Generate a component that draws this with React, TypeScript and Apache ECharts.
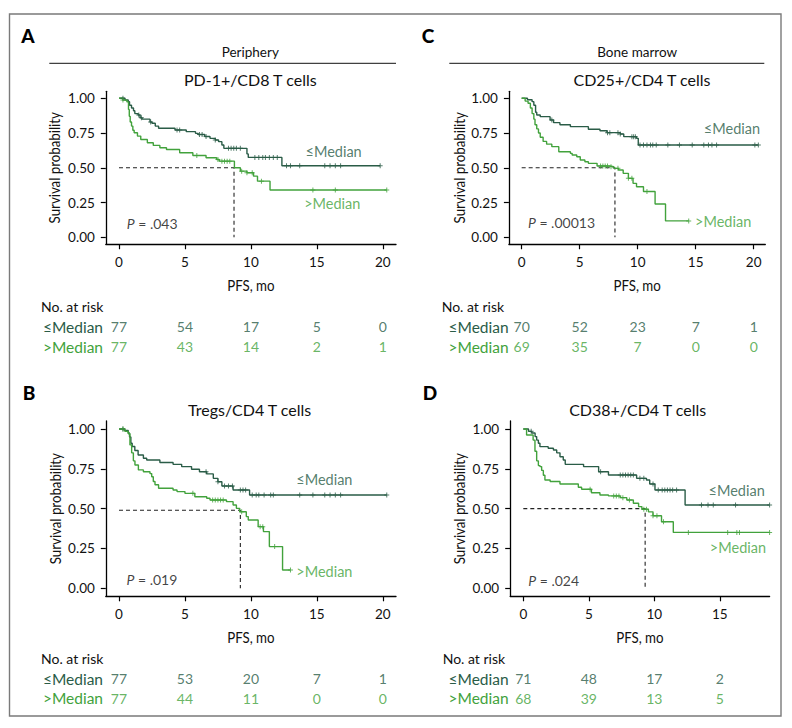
import React, { useEffect, useRef } from "react";
import * as echarts from "echarts";

const DARK = "#2a5c47";
const LIGHT = "#42a23c";
const FONT = "Lato, 'Open Sans', sans-serif";

const groups = ["≤Median", ">Median"];
const yTicks = [0, 0.25, 0.5, 0.75, 1];
const xTicks20 = [0, 5, 10, 15, 20];
const xTicks15 = [0, 5, 10, 15];

// ---------- Panel A: Periphery, PD-1+/CD8 T cells ----------
const aLow = [[0,1],[0.45,0.988],[0.7,0.976],[0.8,0.95],[0.95,0.93],[1.1,0.91],[1.2,0.89],[1.45,0.88],[1.6,0.86],[1.75,0.85],[2.35,0.83],[2.5,0.82],[2.75,0.8],[3.0,0.785],[4.25,0.772],[5.1,0.76],[5.8,0.748],[6.0,0.74],[6.5,0.725],[6.9,0.712],[7.3,0.7],[7.55,0.688],[7.8,0.664],[7.95,0.64],[9.7,0.6],[9.8,0.575],[12.35,0.515],[19.8,0.515]];
const aHigh = [[0,1],[0.3,0.987],[0.6,0.974],[0.72,0.92],[0.78,0.87],[0.85,0.83],[0.95,0.8],[1.05,0.77],[1.15,0.752],[1.4,0.728],[1.65,0.704],[2.15,0.68],[2.6,0.661],[3.1,0.644],[3.6,0.632],[4.6,0.608],[5.6,0.589],[6.6,0.572],[7.4,0.56],[7.6,0.548],[8.75,0.5],[9.2,0.476],[9.7,0.464],[10.2,0.44],[10.5,0.404],[11.45,0.34],[20.3,0.34]];
const aLowCensor = [0.3,1.5,1.7,2.4,4.4,4.6,6.1,6.3,6.6,7.3,8.3,8.5,8.7,8.9,9.2,10.3,10.6,10.9,11.1,11.4,11.7,12.0,12.7,13.0,13.7,15.6,16.0,16.4,16.8,19.8];
const aHighCensor = [0.3,5.9,7.5,7.8,8.0,8.2,8.4,9.3,9.7,10.1,10.8,14.7,16.4,20.3];
const aRiskLow = [77, 54, 17, 5, 0];
const aRiskHigh = [77, 43, 14, 2, 1];
const aMedian = [8.72, 0.5];
const aP = ".043";

// ---------- Panel B: Tregs/CD4 T cells ----------
const bLow = [[0,1],[0.4,0.99],[0.7,0.975],[0.8,0.95],[0.9,0.91],[1.0,0.89],[1.2,0.865],[1.45,0.837],[1.85,0.816],[2.1,0.805],[3.1,0.79],[4.1,0.778],[4.75,0.764],[5.5,0.747],[6.1,0.732],[6.65,0.718],[7.15,0.69],[7.5,0.669],[7.8,0.642],[8.65,0.617],[9.9,0.586],[20.3,0.586]];
const bHigh = [[0,1],[0.45,0.985],[0.7,0.97],[0.83,0.9],[0.96,0.85],[1.09,0.8],[1.21,0.774],[1.47,0.743],[1.85,0.732],[2.35,0.72],[2.48,0.7],[2.6,0.67],[2.73,0.65],[3.0,0.628],[4.1,0.617],[4.4,0.607],[5.0,0.596],[5.75,0.575],[6.65,0.565],[6.9,0.554],[8.15,0.544],[8.65,0.523],[8.9,0.502],[9.15,0.481],[9.65,0.45],[9.8,0.429],[10.55,0.387],[10.95,0.356],[11.4,0.262],[12.4,0.115],[13.0,0.115]];
const bLowCensor = [0.3,6.6,7.5,8.0,8.3,8.6,9.2,9.4,9.6,10.1,10.4,10.6,11.0,11.5,11.7,13.7,14.7,15.6,16.0,16.4,16.8,20.3];
const bHighCensor = [0.3,5.6,7.1,7.3,7.5,7.7,7.9,9.3,10.7,10.9,11.8,13.0];
const bRiskLow = [77, 53, 20, 7, 1];
const bRiskHigh = [77, 44, 11, 0, 0];
const bMedian = [9.2, 0.49];
const bP = ".019";

// ---------- Panel C: Bone marrow, CD25+/CD4 T cells ----------
const cLow = [[0,1],[0.5,0.99],[0.9,0.976],[1.05,0.95],[1.2,0.9],[1.3,0.88],[1.6,0.868],[2.45,0.844],[2.75,0.825],[3.3,0.81],[4.2,0.796],[5.75,0.777],[6.75,0.767],[7.35,0.753],[8.5,0.743],[8.8,0.724],[9.9,0.712],[10.05,0.664],[20.4,0.664]];
const cHigh = [[0,1],[0.3,0.98],[0.55,0.964],[0.75,0.93],[0.9,0.89],[1.05,0.85],[1.15,0.81],[1.3,0.78],[1.45,0.75],[1.6,0.72],[1.85,0.69],[2.15,0.67],[2.6,0.652],[3.2,0.616],[4.2,0.604],[4.35,0.592],[4.75,0.58],[5.05,0.556],[5.45,0.544],[5.75,0.532],[6.5,0.513],[7.6,0.508],[7.95,0.496],[8.35,0.484],[8.75,0.46],[9.2,0.424],[9.6,0.388],[9.9,0.364],[10.5,0.329],[11.5,0.24],[12.4,0.118],[14.4,0.118]];
const cLowCensor = [2.6,7.4,7.6,8.3,8.5,9.5,9.65,9.8,10.2,10.5,10.8,11.1,11.3,11.6,12.6,13.6,14.7,15.7,16.1,16.4,16.8,20.1,20.4];
const cHighCensor = [6.8,7.0,7.2,7.4,7.7,8.3,9.2,9.5,10.8,14.4];
const cRiskLow = [70, 52, 23, 7, 1];
const cRiskHigh = [69, 35, 7, 0, 0];
const cMedian = [8.04, 0.5];
const cP = ".00013";

// ---------- Panel D: CD38+/CD4 T cells ----------
const dLow = [[0,1],[0.4,0.985],[0.65,0.975],[0.9,0.952],[1.02,0.93],[1.15,0.91],[1.27,0.889],[1.9,0.879],[2.3,0.868],[2.55,0.85],[2.8,0.826],[3.05,0.805],[3.2,0.778],[4.6,0.764],[5.75,0.732],[6.5,0.711],[8.65,0.69],[9.4,0.68],[9.65,0.655],[10.05,0.617],[12.35,0.523],[18.8,0.523]];
const dHigh = [[0,1],[0.25,0.962],[0.75,0.93],[0.89,0.86],[1.02,0.8],[1.15,0.77],[1.27,0.764],[1.4,0.74],[1.53,0.71],[1.65,0.68],[2.05,0.67],[2.8,0.655],[4.2,0.634],[4.45,0.622],[5.2,0.6],[5.85,0.586],[6.5,0.58],[7.4,0.569],[7.9,0.554],[8.4,0.534],[8.8,0.513],[9.05,0.496],[9.55,0.48],[9.9,0.455],[10.55,0.418],[11.45,0.351],[18.8,0.351]];
const dLowCensor = [0.6,5.9,7.4,7.6,7.8,8.0,8.2,8.4,8.9,9.2,9.9,10.3,10.6,10.8,11.0,11.2,11.4,11.7,13.6,14.1,14.5,16.2,18.8];
const dHighCensor = [5.1,6.9,7.1,7.3,7.6,8.1,9.2,9.4,9.9,10.2,10.7,12.6,15.6,16.3,16.5,18.8];
const dRiskLow = [71, 48, 17, 2];
const dRiskHigh = [68, 39, 13, 5];
const dMedian = [9.3, 0.5];
const dP = ".024";

// ---------- layout (pixels) ----------
const panels = [
  { letter: "A", lx: 28, ly: 35, title: "PD-1+/CD8 T cells", tx: 250.3, ty: 79,
    low: aLow, high: aHigh, lowC: aLowCensor, highC: aHighCensor, riskLow: aRiskLow, riskHigh: aRiskHigh,
    median: aMedian, p: aP, xticks: xTicks20,
    gx: 105.8, gw: 290.2, xmin: -1, xmax: 21, gy: 91.35, gh: 152.9,
    pPos: [0.55, 0.097], lowLab: [14.1, 0.62], highLab: [14.0, 0.243],
    riskTop: 316.7, riskH: 40, nrX: 41, nrY: 306.7, yNameX: 53, xNameY: 284.3, labRight: 103 },
  { letter: "B", lx: 29, ly: 392, title: "Tregs/CD4 T cells", tx: 249.7, ty: 409.3,
    low: bLow, high: bHigh, lowC: bLowCensor, highC: bHighCensor, riskLow: bRiskLow, riskHigh: bRiskHigh,
    median: bMedian, p: bP, xticks: xTicks20,
    gx: 105.8, gw: 290.2, xmin: -1, xmax: 21, gy: 421.0, gh: 175.3,
    pPos: [0.53, 0.056], lowLab: [13.4, 0.68], highLab: [13.4, 0.104],
    riskTop: 668.9, riskH: 39.2, nrX: 41, nrY: 658.7, yNameX: 54.3, xNameY: 636.7, labRight: 103 },
  { letter: "C", lx: 428, ly: 35, title: "CD25+/CD4 T cells", tx: 642, ty: 79,
    low: cLow, high: cHigh, lowC: cLowCensor, highC: cHighCensor, riskLow: cRiskLow, riskHigh: cRiskHigh,
    median: cMedian, p: cP, xticks: xTicks20,
    gx: 508.9, gw: 256.4, xmin: -1.1, xmax: 21, gy: 91.35, gh: 152.9,
    pPos: [0.5, 0.103], lowLab: [15.66, 0.78], highLab: [14.9, 0.114],
    riskTop: 316.7, riskH: 40, nrX: 441.7, nrY: 306.7, yNameX: 458.3, xNameY: 284.3, labRight: 508.6 },
  { letter: "D", lx: 430, ly: 392, title: "CD38+/CD4 T cells", tx: 637.7, ty: 409.3,
    low: dLow, high: dHigh, lowC: dLowCensor, highC: dHighCensor, riskLow: dRiskLow, riskHigh: dRiskHigh,
    median: dMedian, p: dP, xticks: xTicks15,
    gx: 510.2, gw: 259.4, xmin: -1, xmax: 18.8, gy: 421.0, gh: 175.3,
    pPos: [0.34, 0.052], lowLab: [14.1, 0.613], highLab: [14.2, 0.257],
    riskTop: 668.9, riskH: 39.2, nrX: 442.7, nrY: 658.7, yNameX: 458.3, xNameY: 636.7, labRight: 508.6 },
];

const PLUS = "path://M4,0H6V4H10V6H6V10H4V6H0V4H4Z";

function survAt(curve: number[][], t: number) {
  let s = 1;
  for (const [tt, v] of curve) if (tt <= t + 1e-9) s = v;
  return s;
}

function buildOption() {
  const grid: any[] = [];
  const xAxis: any[] = [];
  const yAxis: any[] = [];
  const series: any[] = [];
  const graphic: any[] = [];

  const axisLine = { show: true, onZero: false, lineStyle: { color: "#000", width: 1.3 } };
  const axisTickStyle = { color: "#000", width: 1.2 };

  panels.forEach((p) => {
    const gi = grid.length;
    grid.push({ left: p.gx, top: p.gy, width: p.gw, height: p.gh });
    xAxis.push({
      type: "value", gridIndex: gi, min: p.xmin, max: p.xmax,
      axisLine, splitLine: { show: false },
      axisTick: { show: true, length: 5, lineStyle: axisTickStyle, customValues: p.xticks },
      axisLabel: { customValues: p.xticks, margin: 11, fontSize: 13.5, fontFamily: FONT, color: "#111" },
    });
    yAxis.push({
      type: "value", gridIndex: gi, min: -0.05, max: 1.05,
      axisLine, splitLine: { show: false },
      axisTick: { show: true, length: 5, lineStyle: axisTickStyle, customValues: yTicks },
      axisLabel: { customValues: yTicks, margin: 11, fontSize: 13.5, fontFamily: FONT, color: "#111",
        formatter: (v: number) => v.toFixed(2) },
    });

    const curves = [
      { data: p.low, censor: p.lowC, color: DARK },
      { data: p.high, censor: p.highC, color: LIGHT },
    ];
    curves.forEach((c) => {
      series.push({
        type: "line", xAxisIndex: gi, yAxisIndex: gi, step: "end", data: c.data,
        showSymbol: false, silent: true, lineStyle: { color: c.color, width: 1.4 }, z: 3,
      });
      series.push({
        type: "scatter", xAxisIndex: gi, yAxisIndex: gi, symbol: PLUS, symbolSize: 5,
        data: c.censor.map((t) => [t, survAt(c.data, t)]), silent: true,
        itemStyle: { color: c.color }, z: 4,
      });
    });
    // median dashed
    series.push({
      type: "line", xAxisIndex: gi, yAxisIndex: gi, silent: true, showSymbol: false,
      data: [[0, p.median[1]], [p.median[0], p.median[1]], [p.median[0], 0]],
      lineStyle: { color: "#222", width: 1.1, type: [4, 3] }, z: 2,
    });
    // text labels in data coords
    const txt = (pos: number[], formatter: string, color: string, size: number, rich?: any) => ({
      type: "scatter", xAxisIndex: gi, yAxisIndex: gi, silent: true, symbolSize: 1,
      itemStyle: { color: "rgba(0,0,0,0)" }, data: [pos],
      label: { show: true, position: "right", distance: 0, formatter, color, fontSize: size,
        fontFamily: FONT, rich },
    });
    series.push(txt(p.pPos, "{i|P} = " + p.p, "#111", 14,
      { i: { fontStyle: "italic", fontSize: 14, fontFamily: FONT, color: "#111" } }));
    series.push(txt(p.lowLab, groups[0], DARK, 14.5));
    series.push(txt(p.highLab, groups[1], LIGHT, 14.5));

    // risk table grid
    const ri = grid.length;
    grid.push({ left: p.gx, top: p.riskTop, width: p.gw, height: p.riskH });
    xAxis.push({ type: "value", gridIndex: ri, min: p.xmin, max: p.xmax, show: false });
    yAxis.push({
      type: "category", gridIndex: ri, data: groups, inverse: true,
      axisLine: { show: false }, axisTick: { show: false }, splitLine: { show: false },
      axisLabel: { interval: 0, hideOverlap: false, margin: p.gx - p.labRight, fontSize: 15.5, fontFamily: FONT,
        color: (_v: any, idx: number) => (idx === 0 ? DARK : LIGHT) },
    });
    [{ vals: p.riskLow, g: groups[0], color: DARK }, { vals: p.riskHigh, g: groups[1], color: LIGHT }].forEach((r) => {
      series.push({
        type: "scatter", xAxisIndex: ri, yAxisIndex: ri, silent: true, symbolSize: 1,
        itemStyle: { color: "rgba(0,0,0,0)" },
        data: r.vals.map((v, k) => [p.xticks[k], r.g, v]),
        label: { show: true, position: "inside", formatter: (q: any) => String(q.value[2]),
          color: r.color, fontSize: 14, fontFamily: FONT },
      });
    });

    // graphic texts
    graphic.push({ type: "text", x: p.lx, y: p.ly, style: { text: p.letter, fontSize: 19, fontWeight: 900,
      fontFamily: FONT, fill: "#000", align: "center", verticalAlign: "middle" } });
    graphic.push({ type: "text", x: p.tx, y: p.ty, style: { text: p.title, fontSize: 16,
      fontFamily: FONT, fill: "#111", align: "center", verticalAlign: "middle" } });
    graphic.push({ type: "text", x: p.nrX, y: p.nrY, style: { text: "No. at risk", fontSize: 14,
      fontFamily: FONT, fill: "#111", align: "left", verticalAlign: "middle" } });
    graphic.push({ type: "text", x: p.yNameX, y: p.gy + p.gh / 2, rotation: Math.PI / 2, scaleX: 0.83,
      style: { text: "Survival probability", fontSize: 16, fontFamily: FONT, fill: "#111",
        align: "center", verticalAlign: "middle" } });
    graphic.push({ type: "text", x: p.gx + p.gw / 2, y: p.xNameY, scaleX: 0.83,
      style: { text: "PFS, mo", fontSize: 16, fontFamily: FONT, fill: "#111",
        align: "center", verticalAlign: "middle" } });
  });

  // section headers
  graphic.push({ type: "text", x: 250.3, y: 51.7, style: { text: "Periphery", fontSize: 13.5,
    fontFamily: FONT, fill: "#111", align: "center", verticalAlign: "middle" } });
  graphic.push({ type: "line", shape: { x1: 49.3, y1: 63.3, x2: 396, y2: 63.3 }, style: { stroke: "#111", lineWidth: 1 } });
  graphic.push({ type: "text", x: 637.2, y: 51.7, style: { text: "Bone marrow", fontSize: 13.5,
    fontFamily: FONT, fill: "#111", align: "center", verticalAlign: "middle" } });
  graphic.push({ type: "line", shape: { x1: 449.3, y1: 63.3, x2: 764.3, y2: 63.3 }, style: { stroke: "#111", lineWidth: 1 } });
  // outer frame
  graphic.push({ type: "rect", shape: { x: 9.5, y: 14, width: 771.5, height: 702 },
    style: { fill: "none", stroke: "#7a7a7a", lineWidth: 1.4 }, z: -1 });

  return { animation: false, backgroundColor: "#fff", grid, xAxis, yAxis, series, graphic };
}

export default function App() {
  const ref = useRef<HTMLDivElement>(null);
  useEffect(() => {
    if (!ref.current) return;
    const chart = echarts.init(ref.current, undefined, { renderer: "svg" });
    chart.setOption(buildOption() as any);
    return () => chart.dispose();
  }, []);
  return <div ref={ref} style={{ position: "absolute", left: 0, top: 0, width: 792, height: 728 }} />;
}
